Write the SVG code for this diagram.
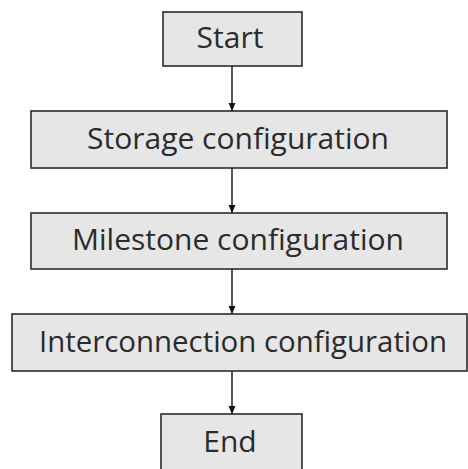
<svg xmlns="http://www.w3.org/2000/svg" width="468" height="469" viewBox="0 0 468 469">
  <style>
    .box { fill: #e6e6e6; stroke: #2b2b2b; stroke-width: 1.6; }
    .label { font-family: "Open Sans", "Noto Sans", "DejaVu Sans", sans-serif; font-size: 30px; fill: #2b2b2b; text-anchor: middle; }
    .link { stroke: #111; stroke-width: 1.4; fill: none; marker-end: url(#arrow); }
  </style>
  <defs>
    <marker id="arrow" viewBox="0 0 8 8" refX="8" refY="4" markerWidth="8" markerHeight="8" markerUnits="userSpaceOnUse" orient="auto">
      <path d="M0,0.5 L8,4 L0,7.5 Z" fill="#111"/>
    </marker>
  </defs>
  <rect width="468" height="469" fill="#ffffff"/>

  <g id="connectors">
    <line class="link" x1="232" y1="66" x2="232" y2="111"/>
    <line class="link" x1="232" y1="168" x2="232" y2="213"/>
    <line class="link" x1="232" y1="269" x2="232" y2="314"/>
    <line class="link" x1="232" y1="371" x2="232" y2="414"/>
  </g>

  <g id="start">
    <rect class="box" x="163" y="12" width="139" height="54"/>
    <text class="label" x="230" y="48">Start</text>
  </g>
  <g id="storage">
    <rect class="box" x="31" y="111" width="416" height="57"/>
    <text class="label" x="238" y="149">Storage configuration</text>
  </g>
  <g id="milestone">
    <rect class="box" x="31" y="213" width="416" height="56"/>
    <text class="label" x="238" y="250">Milestone configuration</text>
  </g>
  <g id="interconnection">
    <rect class="box" x="12" y="314" width="455" height="57"/>
    <text class="label" x="243" y="352" textLength="408" lengthAdjust="spacingAndGlyphs">Interconnection configuration</text>
  </g>
  <g id="end">
    <rect class="box" x="161" y="414" width="141" height="60"/>
    <text class="label" x="230" y="452">End</text>
  </g>
</svg>
